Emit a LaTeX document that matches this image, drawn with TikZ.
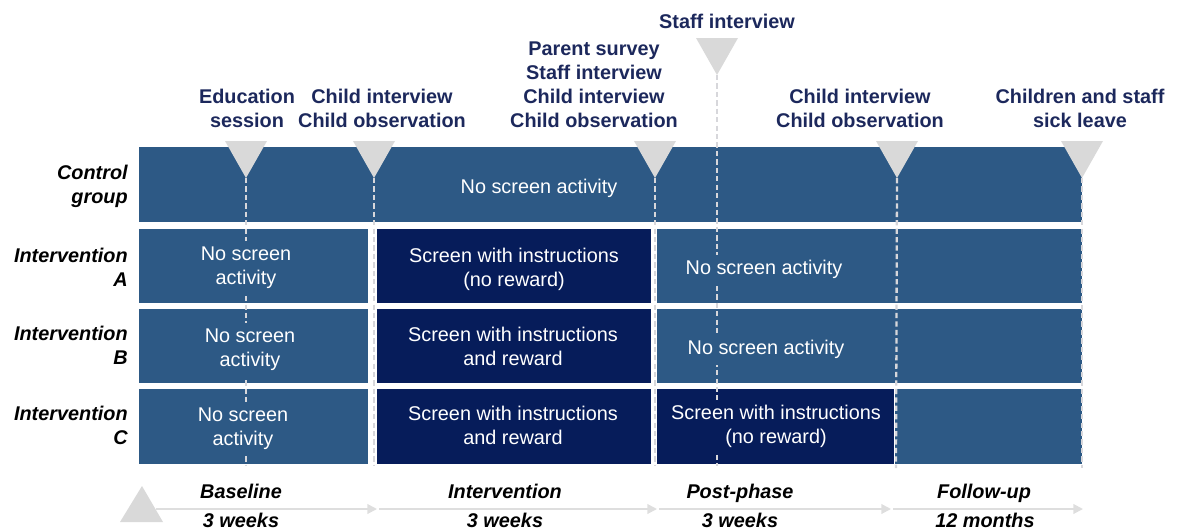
\documentclass[tikz,border=0pt]{standalone}
\usepackage{fontspec}
\setmainfont{Liberation Sans}
\usetikzlibrary{arrows.meta}

\definecolor{phaseblue}{RGB}{45,89,133}
\definecolor{screennavy}{RGB}{6,28,90}
\definecolor{headnavy}{RGB}{28,40,92}
\definecolor{markgray}{RGB}{217,217,217}
\definecolor{guidegray}{RGB}{215,215,219}
\definecolor{axisgray}{RGB}{222,222,222}
\newcommand\fs{\fontsize{11.3}{13.6}\selectfont}

\begin{document}
\begin{tikzpicture}[x=0.02cm, y=-0.02cm,
  plainbox/.style={fill=phaseblue},
  screenbox/.style={fill=screennavy},
  header/.style={font=\fs\bfseries, text=headnavy, align=center, inner sep=0pt},
  grouplabel/.style={font=\fs\bfseries\itshape, align=right, anchor=east, inner sep=0pt},
  boxtext/.style={font=\fs, text=white, align=center, inner xsep=1pt, inner ysep=2pt},
  phaselabel/.style={font=\fs\bfseries\itshape, inner sep=0pt},
  marker/.style={fill=markgray},
  guide/.style={draw=guidegray, line width=1.3pt, dash pattern=on 3pt off 1.8pt},
  axis/.style={draw=axisgray, line width=1.1pt, -{Triangle[length=5.5pt,width=5.5pt]}},
]
\useasboundingbox (0,0) rectangle (1183,531);

% ---- group rows ----
% control group
\fill[plainbox] (139,147) rectangle (1082,222);
% intervention A
\fill[plainbox]  (139,229) rectangle (368,303);
\fill[screenbox] (377,229) rectangle (651,303);
\fill[plainbox]  (657,229) rectangle (1082,303);
% intervention B
\fill[plainbox]  (139,309) rectangle (368,383);
\fill[screenbox] (377,309) rectangle (651,383);
\fill[plainbox]  (657,309) rectangle (1082,383);
% intervention C
\fill[plainbox]  (139,389) rectangle (368,464);
\fill[screenbox] (377,389) rectangle (651,464);
\fill[screenbox] (657,389) rectangle (894,464);
\fill[plainbox]  (895,389) rectangle (1082,464);

% ---- measurement points: marker tips and guide ends ----
\coordinate (tEdu)   at (246,178);
\coordinate (tCi)    at (374,178);
\coordinate (tPar)   at (655,178);
\coordinate (tStaff) at (717,75);
\coordinate (tCiTwo) at (897,178);
\coordinate (tSick)  at (1082,178);
\coordinate (bEdu)   at (246,466);
\coordinate (bCi)    at (374,466);
\coordinate (bPar)   at (655,466);
\coordinate (bStaff) at (717,466);
\coordinate (bCiTwo) at (896,468);
\coordinate (bSick)  at (1082,468);

\draw[guide] (tEdu) -- (bEdu);
\draw[guide] (tCi) -- (bCi);
\draw[guide] (tPar) -- (bPar);
\draw[guide] (tStaff) -- (bStaff);
\draw[guide] (tCiTwo) -- (bCiTwo);
\draw[guide] (tSick) -- (bSick);

\foreach \t in {tEdu,tCi,tPar,tStaff,tCiTwo,tSick}
  \fill[marker] (\t) -- ++(-21,-37) -- ++(42,0) -- cycle;

% ---- measurement labels ----
\node[header] (hEdu)   at (247,111)  {\strut Education\\session\strut};
\node[header] (hCi)    at (382,111)  {\strut Child interview\\Child observation\strut};
\node[header] (hPar)   at (594,86.5) {\strut Parent survey\\Staff interview\\Child interview\\Child observation\strut};
\node[header] (hStaff) at (727,24)   {\strut Staff interview\strut};
\node[header] (hCiTwo) at (860,111)  {\strut Child interview\\Child observation\strut};
\node[header] (hSick)  at (1080,111) {\strut Children and staff\\sick leave\strut};

% ---- group labels ----
\node[grouplabel] (gCtrl) at (128,187) {\strut Control\\group\strut};
\node[grouplabel] (gA)    at (128,270) {\strut Intervention\\A\strut};
\node[grouplabel] (gB)    at (128,348) {\strut Intervention\\B\strut};
\node[grouplabel] (gC)    at (128,428) {\strut Intervention\\C\strut};

% ---- activity texts ----
\node[boxtext, fill=phaseblue] (ctrlAll) at (539,189) {\strut No screen activity\strut};

\node[boxtext, fill=phaseblue]  (aBase) at (246,268)   {\strut No screen\\activity\strut};
\node[boxtext, fill=screennavy] (aInt)  at (514,269.5) {\strut Screen with instructions\\(no reward)\strut};
\node[boxtext, fill=phaseblue]  (aPost) at (764,270)   {\strut No screen activity\strut};

\node[boxtext, fill=phaseblue]  (bBase) at (250,350) {\strut No screen\\activity\strut};
\node[boxtext, fill=screennavy] (bInt)  at (513,349) {\strut Screen with instructions\\and reward\strut};
\node[boxtext, fill=phaseblue]  (bPost) at (766,350) {\strut No screen activity\strut};

\node[boxtext, fill=phaseblue]  (cBase) at (243,429) {\strut No screen\\activity\strut};
\node[boxtext, fill=screennavy] (cInt)  at (513,428) {\strut Screen with instructions\\and reward\strut};
\node[boxtext, fill=screennavy] (cPost) at (776,427) {\strut Screen with instructions\\(no reward)\strut};

% ---- time axis ----
\coordinate (start) at (142,486);
\fill[marker] (start) -- (163,522) -- (120,522) -- cycle;
\coordinate (a0) at (156,509);
\coordinate (a1) at (377,509);
\coordinate (a2) at (379,509);
\coordinate (a3) at (657,509);
\coordinate (a4) at (659,509);
\coordinate (a5) at (891,509);
\coordinate (a6) at (893,509);
\coordinate (a7) at (1083,509);
\draw[axis] (a0) -- (a1);
\draw[axis] (a2) -- (a3);
\draw[axis] (a4) -- (a5);
\draw[axis] (a6) -- (a7);

\node[phaselabel] (pBase)   at (241,494) {\strut Baseline\strut};
\node[phaselabel] (dBase)   at (241,523) {\strut 3 weeks\strut};
\node[phaselabel] (pInt)    at (505,494) {\strut Intervention\strut};
\node[phaselabel] (dInt)    at (505,523) {\strut 3 weeks\strut};
\node[phaselabel] (pPost)   at (740,494) {\strut Post-phase\strut};
\node[phaselabel] (dPost)   at (740,523) {\strut 3 weeks\strut};
\node[phaselabel] (pFollow) at (984,494) {\strut Follow-up\strut};
\node[phaselabel] (dFollow) at (985,523) {\strut 12 months\strut};
\end{tikzpicture}
\end{document}
